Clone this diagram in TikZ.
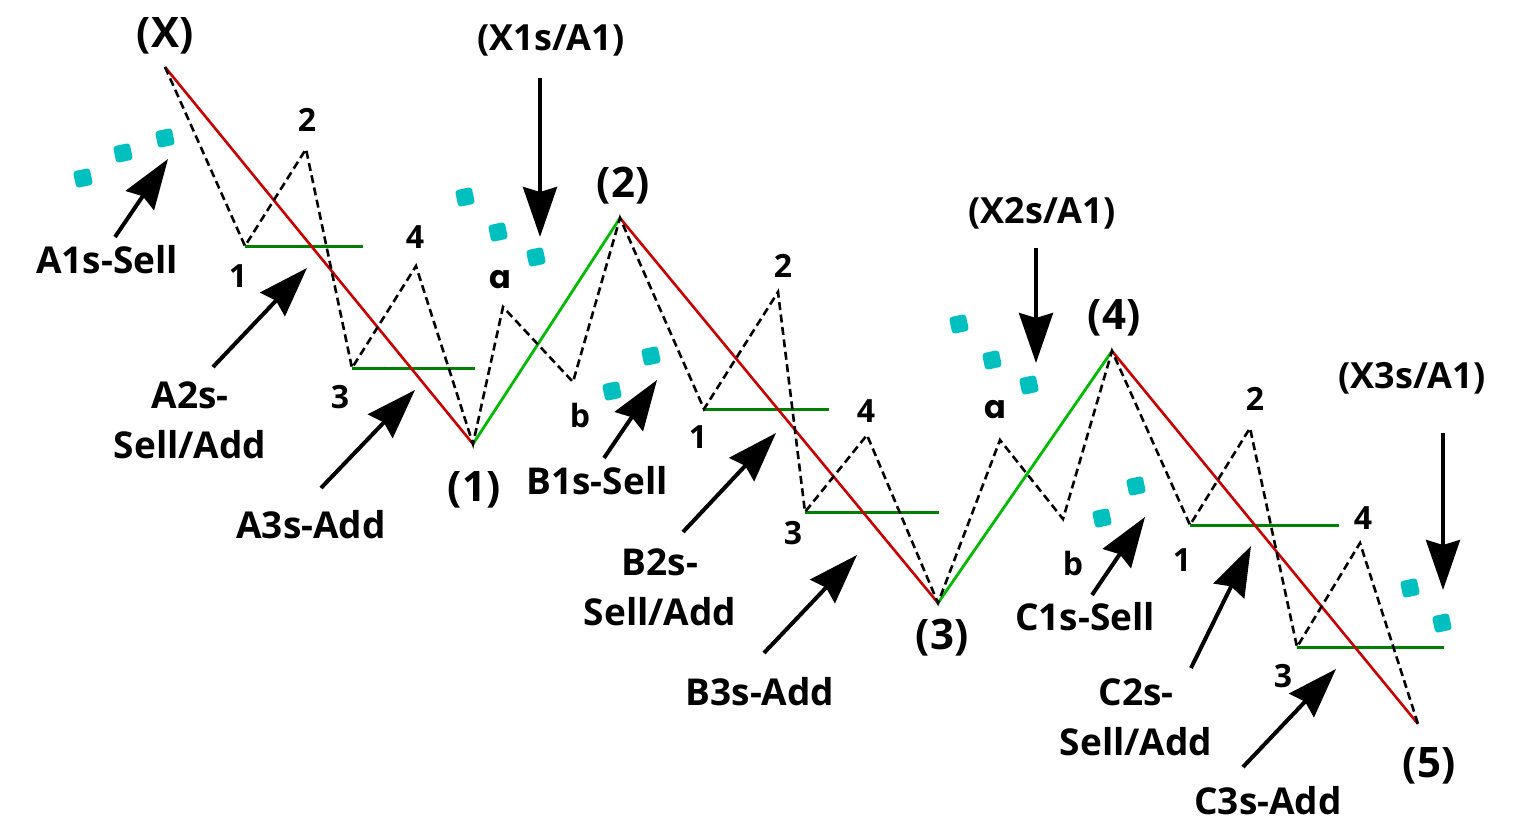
\documentclass[tikz,border=0pt]{standalone}
\usepackage{fontspec}
\setmainfont{Open Sans}
\newfontfamily\roundfont{Poppins}
\usetikzlibrary{arrows.meta}
\definecolor{waveRed}{RGB}{200,0,0}
\definecolor{waveGreen}{RGB}{0,185,0}
\definecolor{levelGreen}{RGB}{0,128,0}
\definecolor{dotCyan}{RGB}{0,191,191}
\tikzset{
  lbl/.style={inner sep=0pt, font=\bfseries\fontsize{37}{50}\selectfont, align=center},
  wlbl/.style={inner sep=0pt, font=\bfseries\fontsize{42}{48}\selectfont},
  xlbl/.style={inner sep=0pt, font=\bfseries\fontsize{36}{44}\selectfont},
  num/.style={inner sep=0pt, font=\bfseries\fontsize{32}{36}\selectfont},
  downleg/.style={draw=waveRed, line width=2.6pt},
  upleg/.style={draw=waveGreen, line width=2.8pt},
  level/.style={draw=levelGreen, line width=3pt},
  subwave/.style={draw=black, line width=2.6pt, dash pattern=on 8pt off 4.5pt},
  bigarrow/.style={draw=black, line width=4pt, -{Stealth[length=50pt,width=34pt,inset=5pt]}},
  dot/.style={fill=dotCyan, rounded corners=3pt, minimum size=17pt, inner sep=0pt, rotate=12}
}
\begin{document}
\begin{tikzpicture}[x=1pt,y=-1pt]
\useasboundingbox (0,0) rectangle (1526,822);

% main wave points
\coordinate (X) at (165,67);
\coordinate (w1) at (245,246);
\coordinate (w2) at (306,149);
\coordinate (w3) at (352,368);
\coordinate (w4) at (416,266);
\coordinate (P1) at (473,444);
\coordinate (ra) at (503,307);
\coordinate (rb) at (573,382);
\coordinate (P2) at (620,218);
\coordinate (v1) at (704,409);
\coordinate (v2) at (778,292);
\coordinate (v3) at (805,512);
\coordinate (v4) at (867,435);
\coordinate (P3) at (938,603);
\coordinate (sa) at (1000,440);
\coordinate (sb) at (1063,519);
\coordinate (P4) at (1112,351);
\coordinate (u1) at (1190,525);
\coordinate (u2) at (1250,428);
\coordinate (u3) at (1297,647);
\coordinate (u4) at (1360,543);
\coordinate (P5) at (1418,724);

% right ends of the entry levels
\coordinate (w1e) at (363,246);
\coordinate (w3e) at (475,368);
\coordinate (v1e) at (829,409);
\coordinate (v3e) at (939,512);
\coordinate (u1e) at (1339,525);
\coordinate (u3e) at (1444,647);

% entry levels
\draw[level] (w1) -- (w1e);
\draw[level] (w3) -- (w3e);
\draw[level] (v1) -- (v1e);
\draw[level] (v3) -- (v3e);
\draw[level] (u1) -- (u1e);
\draw[level] (u3) -- (u3e);

% main legs
\draw[downleg] (X) -- (P1);
\draw[upleg] (P1) -- (P2);
\draw[downleg] (P2) -- (P3);
\draw[upleg] (P3) -- (P4);
\draw[downleg] (P4) -- (P5);

% sub-waves
\draw[subwave, line join=miter] (X) -- (w1) -- (w2) -- (w3) -- (w4) -- (P1) -- (ra) -- (rb) -- (P2)
  -- (v1) -- (v2) -- (v3) -- (v4) -- (P3) -- (sa) -- (sb) -- (P4)
  -- (u1) -- (u2) -- (u3) -- (u4) -- (P5);

% continuation dots
\node[dot] (d1) at (83,178) {};
\node[dot] (d2) at (123,153) {};
\node[dot] (d3) at (165,138) {};
\node[dot] (d4) at (465,197) {};
\node[dot] (d5) at (498,232) {};
\node[dot] (d6) at (536,257) {};
\node[dot] (d7) at (612,391) {};
\node[dot] (d8) at (651,356) {};
\node[dot] (d9) at (959,324) {};
\node[dot] (d10) at (992,360) {};
\node[dot] (d11) at (1029,385) {};
\node[dot] (d12) at (1102,518) {};
\node[dot] (d13) at (1136,486) {};
\node[dot] (d14) at (1410,588) {};
\node[dot] (d15) at (1442,623) {};

% signal arrows
\coordinate (a1t) at (115,237);  \coordinate (a1h) at (168,159);
\coordinate (a2t) at (213,367);  \coordinate (a2h) at (307,268);
\coordinate (a3t) at (321,488);  \coordinate (a3h) at (415,390);
\coordinate (x1t) at (540,78);   \coordinate (x1h) at (540,237);
\coordinate (b1t) at (604,458);  \coordinate (b1h) at (657,380);
\coordinate (b2t) at (683,532);  \coordinate (b2h) at (776,433);
\coordinate (b3t) at (764,653);  \coordinate (b3h) at (857,555);
\coordinate (x2t) at (1036,248); \coordinate (x2h) at (1036,363);
\coordinate (c1t) at (1092,595); \coordinate (c1h) at (1145,517);
\coordinate (c2t) at (1191,668); \coordinate (c2h) at (1251,546);
\coordinate (c3t) at (1243,767); \coordinate (c3h) at (1336,669);
\coordinate (x3t) at (1443,433); \coordinate (x3h) at (1443,590);
\foreach \s in {a1,a2,a3,x1,b1,b2,b3,x2,c1,c2,c3,x3}
  \draw[bigarrow] (\s t) -- (\s h);

% wave labels
\node[wlbl] (lX) at (165,36) {(X)};
\node[xlbl] (lX1) at (551,40) {(X1s/A1)};
\node[xlbl] (lX2) at (1042,213) {(X2s/A1)};
\node[xlbl] (lX3) at (1412,378) {(X3s/A1)};
\node[wlbl] (l1) at (474,490) {(1)};
\node[wlbl] (l2) at (623,186) {(2)};
\node[wlbl] (l3) at (942,638) {(3)};
\node[wlbl] (l4) at (1114,318) {(4)};
\node[wlbl] (l5) at (1429,766) {(5)};

% signal labels
\node[lbl] (tA1) at (107,260) {A1s-Sell};
\node[lbl] (tA2) at (190,420) {A2s-\\Sell/Add};
\node[lbl] (tA3) at (311,525) {A3s-Add};
\node[lbl] (tB1) at (597,481) {B1s-Sell};
\node[lbl] (tB2) at (660,587) {B2s-\\Sell/Add};
\node[lbl] (tB3) at (760,692) {B3s-Add};
\node[lbl] (tC1) at (1085,617) {C1s-Sell};
\node[lbl] (tC2) at (1136,717) {C2s-\\Sell/Add};
\node[lbl] (tC3) at (1268,801) {C3s-Add};

% sub-wave counts
\node[num] (n1) at (307,120) {2};
\node[num] (n2) at (238,276) {1};
\node[num] (n3) at (415,237) {4};
\node[num] (n4) at (340,397) {3};
\node[num, font=\roundfont\bfseries\fontsize{32}{36}\selectfont] (n5) at (500,280) {a};
\node[num] (n6) at (580,415) {b};
\node[num] (n7) at (698,437) {1};
\node[num] (n8) at (783,266) {2};
\node[num] (n9) at (866,411) {4};
\node[num] (n10) at (793,533) {3};
\node[num, font=\roundfont\bfseries\fontsize{32}{36}\selectfont] (n11) at (995,410) {a};
\node[num] (n12) at (1073,563) {b};
\node[num] (n13) at (1182,560) {1};
\node[num] (n14) at (1255,399) {2};
\node[num] (n15) at (1363,518) {4};
\node[num] (n16) at (1283,676) {3};
\end{tikzpicture}
\end{document}
